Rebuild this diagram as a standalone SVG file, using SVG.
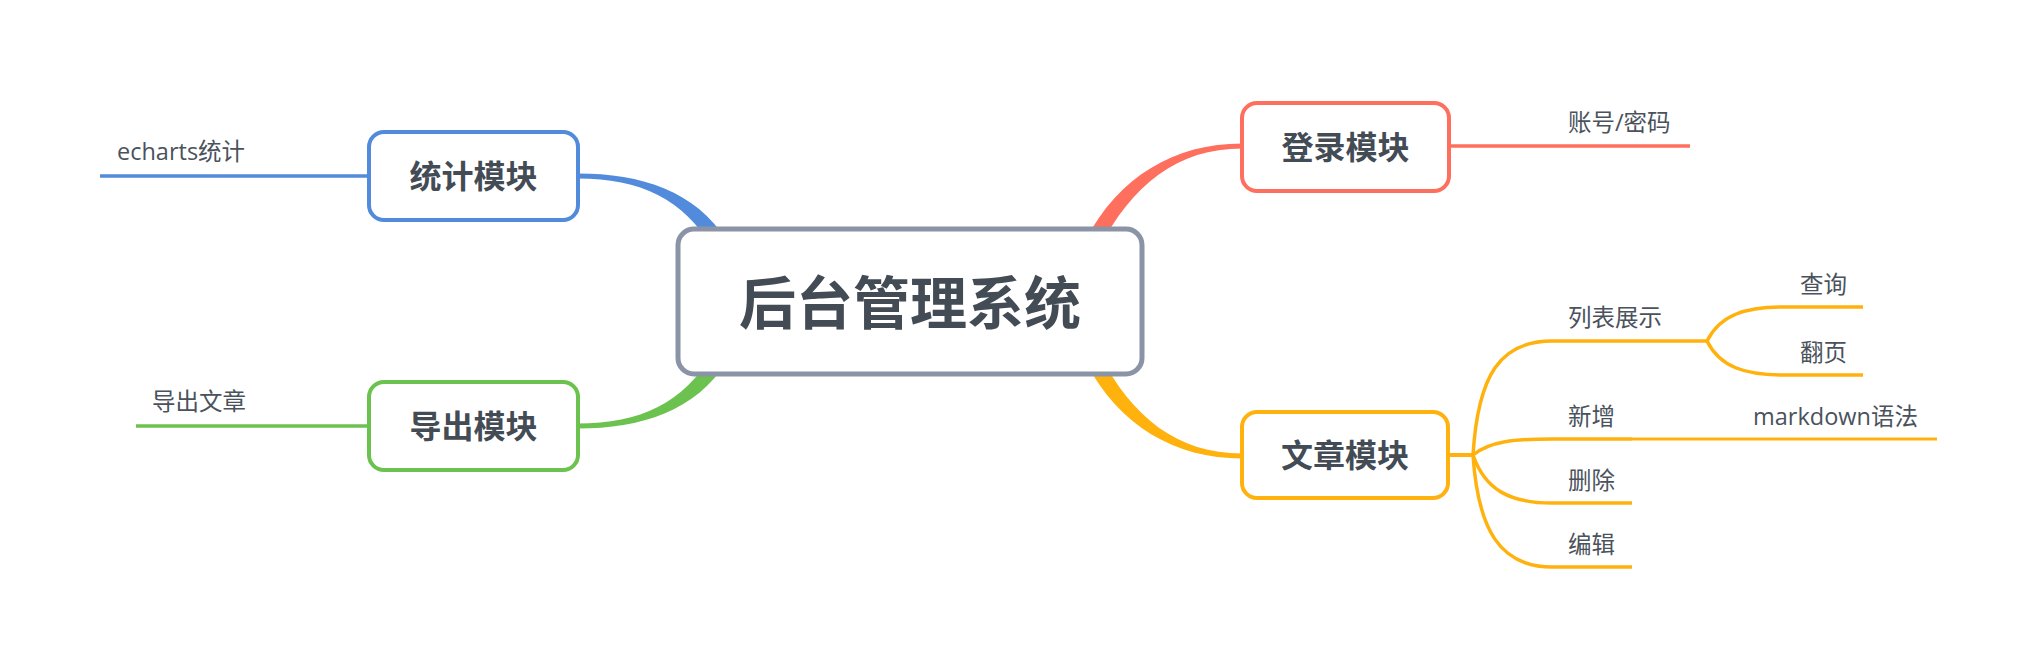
<svg xmlns="http://www.w3.org/2000/svg" width="2038" height="670" viewBox="0 0 2038 670">
<style>
.bg{fill:#ffffff}
.box{fill:#ffffff;stroke-width:4}
.center{fill:#ffffff;stroke:#8a94a6;stroke-width:5}
.lbl{font-family:"Noto Sans CJK SC","Noto Sans",sans-serif;font-weight:bold;fill:#434b55;text-anchor:middle}
.leaf{font-family:"Open Sans","Noto Sans CJK SC",sans-serif;font-size:23.5px;fill:#4a525c}
.ln{fill:none;stroke-linecap:butt}
.blue{stroke:#528bdb}
.red{stroke:#fe6f5e}
.green{stroke:#6cc24f}
.orange{stroke:#ffb20e}
</style>
<rect class="bg" x="0" y="0" width="2038" height="670"/>
<g id="connectors">
  <path fill="#528bdb" d="M578,173.5 C641,173.5 696,191 727,241 L713,249 C684,199 640,178.5 578,178.5 Z"/>
  <path fill="#6cc24f" d="M578,428.5 C641,428.5 696,411 727,361 L713,353 C684,403 640,423.5 578,423.5 Z"/>
  <path fill="#fe6f5e" d="M1085,241 C1119,176 1175,143.5 1242,143.5 L1242,148.5 C1178,148.5 1132,184 1099,249 Z"/>
  <path fill="#ffb20e" d="M1085,361 C1119,426 1175,458.5 1242,458.5 L1242,453.5 C1178,453.5 1132,418 1099,353 Z"/>
  <path class="ln blue" stroke-width="3.5" d="M100,176 L369,176"/>
  <path class="ln green" stroke-width="3.5" d="M136,426 L369,426"/>
  <path class="ln red" stroke-width="3.5" d="M1449,146 L1690,146"/>
  <path class="ln orange" stroke-width="4" d="M1448,455 L1473,455"/>
  <path class="ln orange" stroke-width="3.5" d="M1473,455 C1478,375 1500,341 1552,341 L1707,341"/>
  <path class="ln orange" stroke-width="3.5" d="M1473,455 C1490,441 1515,439 1552,439 L1632,439"/>
  <path class="ln orange" stroke-width="3" d="M1632,439 L1937,439"/>
  <path class="ln orange" stroke-width="3.5" d="M1473,455 C1485,490 1510,503 1552,503 L1632,503"/>
  <path class="ln orange" stroke-width="3.5" d="M1473,455 C1478,530 1500,567 1552,567 L1632,567"/>
  <path class="ln orange" stroke-width="3.5" d="M1707,341 C1720,315 1745,307 1783,307 L1863,307"/>
  <path class="ln orange" stroke-width="3.5" d="M1707,341 C1720,367 1745,375 1783,375 L1863,375"/>
</g>
<g id="center">
  <rect class="center" x="678" y="229" width="464" height="145" rx="16"/>
  <text class="lbl" x="910" y="324" font-size="57">后台管理系统</text>
</g>
<g id="tongji">
  <rect class="box" stroke="#528bdb" x="369" y="132" width="209" height="88" rx="15"/>
  <text class="lbl" x="473.5" y="188" font-size="32">统计模块</text>
</g>
<g id="echarts">
  <text class="leaf" x="117" y="160">echarts统计</text>
</g>
<g id="daochu">
  <rect class="box" stroke="#6cc24f" x="369" y="382" width="209" height="88" rx="15"/>
  <text class="lbl" x="473.5" y="438" font-size="32">导出模块</text>
</g>
<g id="daochuwenzhang">
  <text class="leaf" x="152" y="410">导出文章</text>
</g>
<g id="denglu">
  <rect class="box" stroke="#fe6f5e" x="1242" y="103" width="207" height="88" rx="15"/>
  <text class="lbl" x="1345.5" y="159" font-size="32">登录模块</text>
</g>
<g id="zhanghao">
  <text class="leaf" x="1568" y="131">账号/密码</text>
</g>
<g id="wenzhang">
  <rect class="box" stroke="#ffb20e" x="1242" y="412" width="206" height="86" rx="15"/>
  <text class="lbl" x="1345" y="467" font-size="32">文章模块</text>
</g>
<g id="liebiao"><text class="leaf" x="1568" y="326">列表展示</text></g>
<g id="chaxun"><text class="leaf" x="1800" y="293">查询</text></g>
<g id="fanye"><text class="leaf" x="1800" y="361">翻页</text></g>
<g id="xinzeng"><text class="leaf" x="1568" y="425">新增</text></g>
<g id="markdown"><text class="leaf" x="1753" y="425">markdown语法</text></g>
<g id="shanchu"><text class="leaf" x="1568" y="489">删除</text></g>
<g id="bianji"><text class="leaf" x="1568" y="553">编辑</text></g>
</svg>
